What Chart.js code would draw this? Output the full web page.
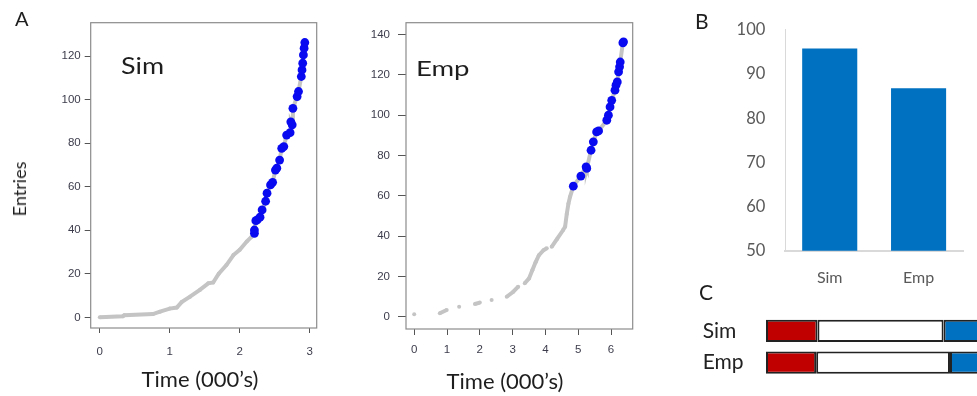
<!DOCTYPE html>
<html>
<head>
<meta charset="utf-8">
<script src="https://cdn.jsdelivr.net/npm/chart.js@4/dist/chart.umd.min.js"></script>
<style>
  html, body { margin: 0; padding: 0; background: #fff; overflow: hidden; }
  #wrap { position: relative; width: 977px; height: 396px; }
  canvas { position: absolute; }
  .t { position: absolute; font-family: Lato, sans-serif; line-height: 1; white-space: nowrap; color: #1e1e1e; }
</style>
</head>
<body>
<div id="wrap">
  <canvas id="simChart" width="330" height="396" style="left:0;top:0"></canvas>
  <canvas id="empChart" width="330" height="396" style="left:330px;top:0"></canvas>
  <canvas id="barChart" width="297" height="300" style="left:680px;top:0"></canvas>
  <canvas id="stackChart" width="297" height="96" style="left:680px;top:300px"></canvas>

  <div class="t" style="left:15px;top:8px;font-size:20px">A</div>
  <div class="t" style="left:695px;top:10px;font-size:21px">B</div>
  <div class="t" style="left:699px;top:281px;font-size:21px">C</div>
  <div class="t" style="left:121px;top:53px;font-size:24px;transform-origin:0 0;transform:scaleX(1.12)">Sim</div>
  <div class="t" style="left:416px;top:57px;font-size:22px;transform-origin:0 0;transform:scaleX(1.25)">Emp</div>
  <div class="t" style="left:19px;top:189px;font-size:18px;transform:translate(-50%,-50%) rotate(-90deg)">Entries</div>
  <div class="t" style="left:200px;top:368px;font-size:22px;transform:translateX(-50%)">Time (000’s)</div>
  <div class="t" style="left:505px;top:370px;font-size:22px;transform:translateX(-50%)">Time (000’s)</div>
</div>
<script>
// A: Sim - 灰色の累積曲線と青い点（時間は千単位）
var simGrayT = [0, 0.33, 0.35, 0.76, 0.86, 1.0, 1.1, 1.17, 1.29, 1.43, 1.55, 1.62, 1.7, 1.81, 1.91, 2.0, 2.1, 2.17];
var simGrayV = [0, 0.5, 1, 1.5, 2.6, 4, 4.5, 7, 9.5, 12.6, 15.6, 16, 20, 24, 28.6, 31, 34.8, 37];
var simBlueT = [2.21, 2.21, 2.23, 2.25, 2.29, 2.32, 2.37, 2.39, 2.44, 2.47, 2.51, 2.53, 2.57, 2.6, 2.63, 2.67, 2.72, 2.73, 2.75, 2.76, 2.82, 2.84, 2.88, 2.89, 2.9, 2.91, 2.92, 2.93];
var simBlueV = [38.6, 40.1, 44.4, 44.7, 46, 49.3, 53.3, 57, 60.8, 62, 67.6, 68.5, 72.2, 77.6, 78.4, 83.7, 84.8, 89.8, 88.4, 96, 101.4, 103.7, 110.6, 113.6, 116.7, 120.5, 123.6, 126.2];
var simXTicks = [0, 1, 2, 3];
var simYTicks = [0, 20, 40, 60, 80, 100, 120];

// A: Emp - null は線の切れ目
var empGrayT = [0, 0.2, 0.78, 0.99, 1.2, 1.37, 1.6, 1.85, 2.0, 2.2, 2.36, 2.6, 2.82, 3.02, 3.17, 3.27, 3.37, 3.5, 3.6, 3.7, 3.8, 3.94, 4.04, 4.1, 4.19, 4.35, 4.54, 4.6, 4.65, 4.7, 4.75];
var empGrayV = [1.2, null, 1.7, 3.3, null, 5, null, 6.3, 7, null, 8.3, null, 9.9, 12.4, 14.9, null, 16.6, 19, 23, 27, 30.5, 33, 34, null, 34.7, 38.5, 43, 44.7, 51, 56, 59.5];
var empBlueT = [4.85, 5.08, 5.24, 5.26, 5.39, 5.46, 5.56, 5.62, 5.87, 5.92, 5.97, 6.02, 6.12, 6.15, 6.19, 6.23, 6.26, 6.28, 6.36, 6.38];
var empBlueV = [64.8, 69.8, 74.4, 73.6, 82.6, 86.8, 91.7, 92.2, 97.5, 100, 104.1, 107.4, 112.4, 114.9, 116.5, 121.5, 124, 126.4, 135.9, 136.4];
var empXTicks = [0, 1, 2, 3, 4, 5, 6];
var empYTicks = [0, 20, 40, 60, 80, 100, 120, 140];

// B
var barLabels = ["Sim", "Emp"];
var barValues = [95.8, 86.8];

// C - 赤・白・青の割合
var stackLabels = ["Sim", "Emp"];
var stackRed = [20, 19.5];
var stackWhite = [49, 52];
var stackBlue = [31, 28.5];

function pts(t, v) {
    return t.map(function (x, i) { return { x: x, y: v[i] }; });
}

// 枠線を描くプラグイン
var boxPlugin = {
    id: 'box',
    afterDraw: function (chart) {
        var a = chart.chartArea;
        var c = chart.ctx;
        c.save();
        c.strokeStyle = '#8c8c8c';
        c.lineWidth = 1.2;
        c.strokeRect(a.left, a.top, a.right - a.left, a.bottom - a.top);
        c.restore();
    }
};

var tickFont = { family: 'Liberation Sans, Arial, sans-serif', size: 11.5 };

function curveChart(id, grayT, grayV, blueT, blueV, xr, yr, xTicks, yTicks, pad, yw, xh, tk) {
    return new Chart(document.getElementById(id), {
        type: 'line',
        data: {
            datasets: [
                {
                    data: pts(blueT, blueV),
                    showLine: false,
                    pointRadius: 4.4,
                    pointBackgroundColor: '#0a0af0',
                    pointBorderWidth: 0
                },
                {
                    data: pts(grayT.concat(blueT), grayV.concat(blueV)),
                    borderColor: '#c4c4c4',
                    borderWidth: 4,
                    pointRadius: 2,
                    pointBackgroundColor: '#c4c4c4',
                    pointBorderWidth: 0,
                    spanGaps: false,
                    tension: 0
                }
            ]
        },
        options: {
            responsive: false,
            animation: false,
            events: [],
            layout: { padding: pad },
            plugins: { legend: { display: false }, tooltip: { enabled: false } },
            scales: {
                x: {
                    type: 'linear',
                    min: xr[0],
                    max: xr[1],
                    afterBuildTicks: function (ax) { ax.ticks = xTicks.map(function (v) { return { value: v }; }); },
                    afterFit: function (s) { s.height = xh; },
                    grid: { drawOnChartArea: false, drawTicks: true, tickLength: tk[0], color: '#555' },
                    border: { display: false },
                    ticks: { font: tickFont, color: '#3c3c4c', padding: tk[1], maxRotation: 0, callback: function (v) { return String(v); } }
                },
                y: {
                    type: 'linear',
                    min: yr[0],
                    max: yr[1],
                    afterBuildTicks: function (ax) { ax.ticks = yTicks.map(function (v) { return { value: v }; }); },
                    afterFit: function (s) { s.width = yw; },
                    grid: { drawOnChartArea: false, drawTicks: true, tickLength: tk[2], color: '#555' },
                    border: { display: false },
                    ticks: { font: tickFont, color: '#3c3c4c', padding: tk[3], callback: function (v) { return String(v); } }
                }
            }
        },
        plugins: [boxPlugin]
    });
}

curveChart('simChart', simGrayT, simGrayV, simBlueT, simBlueV, [-0.13, 3.1], [-4.9, 135.3], simXTicks, simYTicks,
    { top: 22.7, right: 13.3, left: 0, bottom: 0 }, 90.7, 68, [5, 12, 6, 4]);
curveChart('empChart', empGrayT, empGrayV, empBlueT, empBlueV, [-0.25, 6.66], [-6.1, 145.9], empXTicks, empYTicks,
    { top: 22.7, right: 27.3, left: 0, bottom: 0 }, 76, 67, [6, 8, 8, 8]);

// B: 棒グラフ
new Chart(document.getElementById('barChart'), {
    type: 'bar',
    data: {
        labels: barLabels,
        datasets: [{ data: barValues, backgroundColor: '#0070c0', barPercentage: 0.62, categoryPercentage: 1 }]
    },
    options: {
        responsive: false,
        animation: false,
        events: [],
        layout: { padding: { top: 25, right: 14, left: 0, bottom: 0 } },
        plugins: { legend: { display: false }, tooltip: { enabled: false } },
        scales: {
            x: {
                afterFit: function (s) { s.height = 49.3; },
                grid: { display: false, drawTicks: false },
                border: { display: true, color: '#d9d9d9', width: 2 },
                ticks: { font: { family: 'Lato', size: 16 }, color: '#595959', padding: 18 }
            },
            y: {
                min: 50,
                max: 100,
                afterFit: function (s) { s.width = 105.3; },
                grid: { display: false, drawTicks: false },
                border: { display: true, color: '#d9d9d9', width: 1 },
                ticks: { stepSize: 10, font: { family: 'Lato', size: 16.5 }, color: '#595959', padding: 20 }
            }
        }
    }
});

// C: 横向きの積み上げ棒
function seg(vals, color) {
    return {
        data: vals,
        backgroundColor: color,
        borderColor: '#222',
        borderWidth: 2,
        borderSkipped: false,
        barPercentage: 0.7,
        categoryPercentage: 1
    };
}
new Chart(document.getElementById('stackChart'), {
    type: 'bar',
    data: {
        labels: stackLabels,
        datasets: [seg(stackRed, '#c00000'), seg(stackWhite, '#ffffff'), seg(stackBlue, '#0070c0')]
    },
    options: {
        indexAxis: 'y',
        responsive: false,
        animation: false,
        events: [],
        layout: { padding: { top: 15, bottom: 17.6, left: 22.7, right: 0 } },
        plugins: { legend: { display: false }, tooltip: { enabled: false } },
        scales: {
            x: { display: false, stacked: true, min: 0, max: 82 },
            y: {
                stacked: true,
                afterFit: function (s) { s.width = 63.3; },
                grid: { display: false, drawTicks: false },
                border: { display: false },
                ticks: { font: { family: 'Lato', size: 21 }, color: '#222', crossAlign: 'far', padding: 0 }
            }
        }
    }
});
</script>
</body>
</html>
